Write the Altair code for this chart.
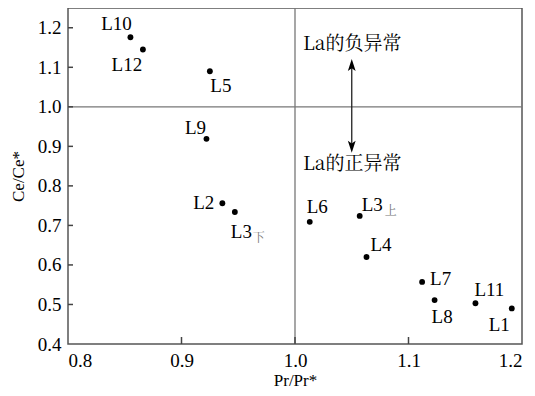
import altair as alt
import pandas as pd

# ---- data ----
names = ["L10", "L12", "L5", "L9", "L2", "L3", "L6", "L3", "L4", "L7", "L8", "L11", "L1"]
subs = ["", "", "", "", "", "下", "", "上", "", "", "", "", ""]
pr = [0.855, 0.866, 0.925, 0.922, 0.936, 0.947, 1.013, 1.057, 1.063, 1.112, 1.123, 1.159, 1.191]
ce = [1.176, 1.145, 1.090, 0.919, 0.756, 0.734, 0.709, 0.724, 0.620, 0.557, 0.511, 0.503, 0.490]
x_ticks = [0.8, 0.9, 1.0, 1.1, 1.2]
y_ticks = [0.4, 0.5, 0.6, 0.7, 0.8, 0.9, 1.0, 1.1, 1.2]
note_top = "La的负异常"
note_bottom = "La的正异常"
note_x = 1.007
note_y = [1.158, 0.856]
arrow_x = 1.05
arrow_y = [0.884, 1.121]

ids = [n + s for n, s in zip(names, subs)]
df = pd.DataFrame({"id": ids, "name": names, "sub": subs, "pr": pr, "ce": ce})

W, H = 454, 336
XMIN, XMAX, YMIN, YMAX = 0.8, 1.2, 0.4, 1.25
xs = alt.Scale(domain=[XMIN, XMAX], nice=False, zero=False)
ys = alt.Scale(domain=[YMIN, YMAX], nice=False, zero=False)
SERIF = "Liberation Serif"
CJK = "Noto Serif CJK SC"
FS = 19

base = alt.Chart(df)

points = base.mark_circle(size=34, color="black", opacity=1).encode(
    x=alt.X("pr:Q", scale=xs, axis=alt.Axis(values=x_ticks, format=".1f", title="Pr/Pr*",
                                             labelPadding=7, titlePadding=2)),
    y=alt.Y("ce:Q", scale=ys, axis=alt.Axis(values=y_ticks, format=".1f", title="Ce/Ce*",
                                             labelPadding=7, titlePadding=10)),
)

# label placement styles: id -> (align, dx, dy)
label_style = {
    "L10": ("center", -14, -13),
    "L12": ("center", -16, 15),
    "L5": ("center", 11, 15),
    "L9": ("center", -11, -11),
    "L2": ("right", -8, 0),
    "L3下": ("left", -4, 20),
    "L6": ("left", -3, -15),
    "L3上": ("left", 2, -11),
    "L4": ("left", 4, -12),
    "L7": ("left", 8, -3),
    "L8": ("left", -3, 17),
    "L11": ("left", -1, -13),
    "L1": ("right", -2, 17),
}
sub_style = {"L3下": (18, 26), "L3上": (25, -5)}

layers = []
for key, (al, dx, dy) in label_style.items():
    layers.append(
        base.transform_filter(alt.datum.id == key)
        .mark_text(align=al, baseline="middle", dx=dx, dy=dy, font=SERIF, fontSize=FS, color="black")
        .encode(x=alt.X("pr:Q", scale=xs), y=alt.Y("ce:Q", scale=ys), text="name:N")
    )
for key, (dx, dy) in sub_style.items():
    layers.append(
        base.transform_filter(alt.datum.id == key)
        .mark_text(align="left", baseline="middle", dx=dx, dy=dy, font=CJK,
                   fontSize=12, color="#777777")
        .encode(x=alt.X("pr:Q", scale=xs), y=alt.Y("ce:Q", scale=ys), text="sub:N")
    )

# reference lines at 1.0
vline = alt.Chart(pd.DataFrame({"v": [1.0]})).mark_rule(color="#777777", strokeWidth=1.3).encode(
    x=alt.X("v:Q", scale=xs), y=alt.datum(YMIN, scale=ys), y2=alt.datum(YMAX))
hline = alt.Chart(pd.DataFrame({"v": [1.0]})).mark_rule(color="#777777", strokeWidth=1.3).encode(
    y=alt.Y("v:Q", scale=ys), x=alt.datum(XMIN, scale=xs), x2=alt.datum(XMAX))

# inward ticks (length expressed in data units)
ytick_len = 7 * (YMAX - YMIN) / H
xtick_len = 5 * (XMAX - XMIN) / W
xt = alt.Chart(pd.DataFrame({"t": x_ticks[1:-1]})).mark_rule(strokeWidth=1.5, color="#444444").encode(
    x=alt.X("t:Q", scale=xs), y=alt.datum(YMIN, scale=ys), y2=alt.datum(YMIN + ytick_len))
yt = alt.Chart(pd.DataFrame({"t": y_ticks[1:]})).mark_rule(strokeWidth=1.5, color="#444444").encode(
    y=alt.Y("t:Q", scale=ys), x=alt.datum(XMIN, scale=xs), x2=alt.datum(XMIN + xtick_len))

# arrow
arr_df = pd.DataFrame({"x": [arrow_x], "y1": [arrow_y[0] + 0.01], "y2": [arrow_y[1] - 0.01]})
arrow = alt.Chart(arr_df).mark_rule(color="#222222", strokeWidth=1.3).encode(
    x=alt.X("x:Q", scale=xs), y=alt.Y("y1:Q", scale=ys), y2="y2:Q")
head_df = pd.DataFrame({"x": [arrow_x], "yt": [arrow_y[1] - 0.015], "yb": [arrow_y[0] + 0.015]})
head_up = alt.Chart(head_df).mark_point(
    shape="M0,-1L0.65,1L0,0.55L-0.65,1Z", size=144, filled=True, color="black", opacity=1).encode(
    x=alt.X("x:Q", scale=xs), y=alt.Y("yt:Q", scale=ys))
head_dn = alt.Chart(head_df).mark_point(
    shape="M0,1L0.65,-1L0,-0.55L-0.65,-1Z", size=144, filled=True, color="black", opacity=1).encode(
    x=alt.X("x:Q", scale=xs), y=alt.Y("yb:Q", scale=ys))

notes_df = pd.DataFrame({"x": [note_x, note_x], "y": note_y, "t": [note_top, note_bottom]})
notes = alt.Chart(notes_df).mark_text(align="left", baseline="middle", font=CJK, fontSize=19,
                                      color="black").encode(
    x=alt.X("x:Q", scale=xs), y=alt.Y("y:Q", scale=ys), text="t:N")

chart = alt.layer(vline, hline, xt, yt, arrow, head_up, head_dn, notes, points, *layers).properties(
    width=W, height=H,
    autosize=alt.AutoSizeParams(type="none"),
    padding={"left": 60, "top": 0, "right": 5, "bottom": 50},
    background="white",
).configure_view(stroke="#555555", strokeWidth=1.5).configure_axis(
    ticks=False, domain=False, grid=False,
    labelFont=SERIF, labelFontSize=19, labelColor="black",
    titleFont=SERIF, titleFontSize=17, titleFontWeight="normal", titleColor="black",
)

chart.save("out.html", embed_options={"renderer": "svg", "actions": False})
